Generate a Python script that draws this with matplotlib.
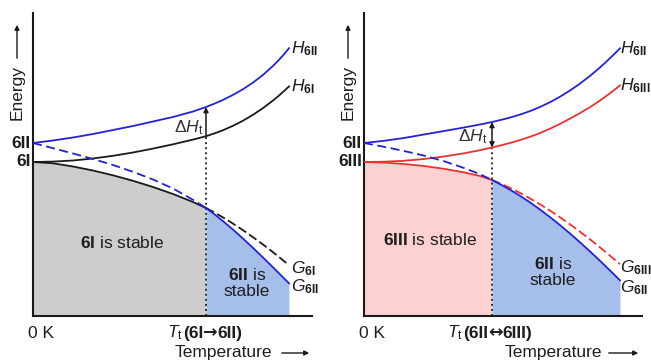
import matplotlib
matplotlib.use("Agg")
import matplotlib.pyplot as plt
from matplotlib.patches import FancyArrowPatch
from matplotlib.offsetbox import TextArea, HPacker, AnnotationBbox

plt.rcParams["font.family"] = ["Liberation Sans", "DejaVu Sans"]
plt.rcParams["mathtext.fontset"] = "custom"
plt.rcParams["mathtext.rm"] = "Liberation Sans"
plt.rcParams["mathtext.it"] = "Liberation Sans:italic"
plt.rcParams["mathtext.bf"] = "Liberation Sans:bold"

# ---- left panel: forms 6I and 6II (arbitrary temperature / energy units) ----
T_left = [0, 2, 4, 6, 8, 10, 12, 14, 16, 17.3, 18.2, 19, 20, 21, 22, 23, 24, 24.5, 25.1, 25.6]
H_6II_left = [17.3, 17.55, 17.85, 18.2, 18.6, 19.0, 19.45, 19.9, 20.45, 20.9,
              21.26, 21.61, 22.11, 22.68, 23.34, 24.11, 25.01, 25.51, 26.17, 26.78]
H_6I_left = [15.4, 15.44, 15.55, 15.75, 16.02, 16.35, 16.74, 17.17, 17.64, 17.98,
             18.28, 18.58, 19.02, 19.53, 20.12, 20.79, 21.55, 21.96, 22.49, 22.96]
G_6I_left = [15.4, 15.27, 14.95, 14.55, 14.07, 13.52, 12.9, 12.2, 11.4, 10.8,
             10.32, 9.86, 9.24, 8.58, 7.88, 7.15, 6.38, 5.98, 5.49, 5.08]
G_6II_left = [17.3, 16.78, 16.25, 15.7, 15.1, 14.42, 13.65, 12.75, 11.62, 10.8,
              10.13, 9.49, 8.64, 7.74, 6.81, 5.85, 4.87, 4.37, 3.77, 3.27]
Tt_left_idx = 9

# ---- right panel: forms 6III and 6II ----
T_right = [0, 2, 4, 6, 8, 10, 11.6, 12.8, 13.7, 14.6, 15.6, 16.6, 17.6, 18.6, 19.6,
           20.6, 21.6, 22.6, 23.4, 24.1, 24.9, 25.6]
H_6II_right = [17.3, 17.52, 17.8, 18.15, 18.5, 18.85, 19.15, 19.4, 19.61, 19.84, 20.14,
               20.49, 20.90, 21.38, 21.93, 22.55, 23.24, 24.01, 24.68, 25.31, 26.07, 26.77]
H_6III_right = [15.4, 15.43, 15.52, 15.7, 15.95, 16.27, 16.58, 16.85, 17.07, 17.30, 17.59,
                17.92, 18.30, 18.73, 19.21, 19.74, 20.29, 20.89, 21.41, 21.9, 22.5, 23.06]
G_6III_right = [15.4, 15.34, 15.2, 15.0, 14.72, 14.36, 14.0, 13.6, 13.22, 12.81, 12.31,
                11.76, 11.17, 10.54, 9.87, 9.17, 8.43, 7.66, 7.02, 6.45, 5.78, 5.18]
G_6II_right = [17.3, 16.92, 16.5, 16.04, 15.48, 14.8, 14.18, 13.6, 13.13, 12.63, 12.02,
               11.36, 10.65, 9.89, 9.09, 8.25, 7.37, 6.46, 5.71, 5.04, 4.26, 3.56]
Tt_right_idx = 7

BLUE = "#2323d2"
RED = "#e83232"
BLACK = "#1a1a1a"
GRAY_FILL = "#cdcdcd"
BLUE_FILL = "#a6bfea"
PINK_FILL = "#fdd0d1"
TXT = "#1e1e1e"
FS = 12.5

W, H = 651, 361
fig = plt.figure(figsize=(W / 100, H / 100), dpi=100)


def fx(x, y):
    return x / W, 1 - y / H


def make_axes(left_px, width_px, xmax):
    ax = fig.add_axes([left_px / W, 1 - 316 / H, width_px / W, 303 / H])
    ax.set_xlim(0, xmax)
    ax.set_ylim(0, 30.3)
    for s in ("top", "right"):
        ax.spines[s].set_visible(False)
    for s in ("left", "bottom"):
        ax.spines[s].set_linewidth(1.5)
        ax.spines[s].set_color(BLACK)
    ax.set_xticks([])
    ax.set_yticks([])
    ax.patch.set_alpha(0)
    return ax


def panel(ax, T, H_hi, H_lo, G_lo, G_hi, k, low_color, low_fill, low_name,
          hi_name, double_arrow, dh_offset, lab_dx, g_offsets):
    # stable regions
    ax.fill_between(T[:k + 1], 0, G_lo[:k + 1], color=low_fill, lw=0, zorder=1)
    ax.fill_between(T[k:], 0, G_hi[k:], color=BLUE_FILL, lw=0, zorder=1)
    # enthalpy curves
    ax.plot(T, H_hi, color=BLUE, lw=1.3, zorder=3, solid_joinstyle="round")
    ax.plot(T, H_lo, color=low_color, lw=1.3, zorder=3, solid_joinstyle="round")
    # free energy curves: solid where stable, dashed where metastable
    ax.plot(T[:k + 1], G_lo[:k + 1], color=low_color, lw=1.3, zorder=3, solid_joinstyle="round")
    ax.plot(T[k:], G_lo[k:], color=low_color, lw=1.3, ls=(0, (5, 2)), zorder=3)
    ax.plot(T[:k + 1], G_hi[:k + 1], color=BLUE, lw=1.3, ls=(0, (5, 2.5)), zorder=4)
    ax.plot(T[k:], G_hi[k:], color=BLUE, lw=1.3, zorder=4, solid_joinstyle="round")
    # transition temperature marker
    Tt = T[k]
    ax.plot([Tt, Tt], [0, H_lo[k]], color="#333333", lw=1.4, ls=(0, (1, 1.6)), zorder=2)
    style = "<|-|>" if double_arrow else "-|>"
    ax.annotate("", xy=(Tt, H_hi[k]), xytext=(Tt, H_lo[k]),
                arrowprops=dict(arrowstyle=style, color=BLACK, lw=1.1,
                                mutation_scale=7, shrinkA=0, shrinkB=0), zorder=5)
    ax.annotate(r"$\Delta H_{\mathrm{t}}$", xy=(Tt, (H_hi[k] + H_lo[k]) / 2),
                xytext=dh_offset, textcoords="offset points", ha="right",
                va="center", fontsize=FS, color="#333333")
    # curve labels
    for txt, yv, dy in ((r"$H_{\mathbf{%s}}$" % hi_name, H_hi[-1], 0),
                        (r"$H_{\mathbf{%s}}$" % low_name, H_lo[-1], 0),
                        (r"$G_{\mathbf{%s}}$" % low_name, G_lo[-1], g_offsets[0]),
                        (r"$G_{\mathbf{%s}}$" % hi_name, G_hi[-1], g_offsets[1])):
        ax.annotate(txt, xy=(T[-1], yv), xytext=(lab_dx, dy), textcoords="offset points",
                    ha="left", va="center", fontsize=FS, color=TXT)
    # starting energies at 0 K
    for name, yv in ((hi_name, H_hi[0]), (low_name, H_lo[0])):
        ax.annotate(name, xy=(0, yv), xytext=(-1.5, 0), textcoords="offset points",
                    ha="right", va="center", fontsize=FS, fontweight="bold", color=TXT)


axL = make_axes(33, 279, 27.9)
axR = make_axes(364, 278, 27.8)

panel(axL, T_left, H_6II_left, H_6I_left, G_6I_left, G_6II_left, Tt_left_idx,
      BLACK, GRAY_FILL, "6I", "6II", False, (-2, -4.5), 1.5, (-2.2, -2.5))
panel(axR, T_right, H_6II_right, H_6III_right, G_6III_right, G_6II_right, Tt_right_idx,
      RED, PINK_FILL, "6III", "6II", True, (-3, -1.5), 0, (-2.2, -5.0))

# region captions
fig.text(*fx(122, 243), r"$\mathbf{6I}$ is stable", ha="center", va="center", fontsize=FS, color=TXT)
fig.text(*fx(247, 283), "$\\mathbf{6II}$ is\nstable", ha="center", va="center",
         fontsize=FS, color=TXT, multialignment="center", linespacing=1.1)
fig.text(*fx(430, 240), r"$\mathbf{6III}$ is stable", ha="center", va="center", fontsize=FS, color=TXT)
fig.text(*fx(553, 272), "$\\mathbf{6II}$ is\nstable", ha="center", va="center",
         fontsize=FS, color=TXT, multialignment="center", linespacing=1.1)


def tt_label(xc, yc, left, arrow, right):
    bold = dict(fontsize=FS, fontweight="bold", color=TXT)
    parts = [TextArea("$T_{\\mathrm{t}}$", textprops=dict(fontsize=FS, color=TXT)),
             TextArea(left, textprops=bold),
             TextArea(arrow, textprops=dict(fontsize=FS, fontweight="bold", color=TXT,
                                            family="DejaVu Sans")),
             TextArea(right, textprops=bold)]
    box = HPacker(children=parts, align="baseline", pad=0, sep=0)
    fig.add_artist(AnnotationBbox(box, fx(xc, yc), xycoords="figure fraction",
                                  frameon=False, box_alignment=(0.5, 0.5), pad=0))


tt_label(205, 333, "(6I", "\u2192", "6II)")
tt_label(490, 333, "(6II", "\u2194", "6III)")

# x-axis annotations
for x0, xtemp, xa0, xa1 in ((28, 175, 279, 312), (359, 505, 606, 641)):
    fig.text(*fx(x0, 333), "0 K", ha="left", va="center", fontsize=FS, color=TXT)
    fig.text(*fx(xtemp, 352), "Temperature", ha="left", va="center", fontsize=FS, color=TXT)
    fig.add_artist(FancyArrowPatch(
        fx(xa0, 353), fx(xa1, 353), transform=fig.transFigure, arrowstyle="-|>",
        mutation_scale=7, lw=1.0, color=BLACK))

# y-axis titles
for xe in (17, 348):
    fig.text(*fx(xe, 92), "Energy", rotation=90, ha="center", va="center",
             fontsize=FS, color=TXT)
    fig.add_artist(FancyArrowPatch(
        fx(xe, 61), fx(xe, 22), transform=fig.transFigure, arrowstyle="-|>",
        mutation_scale=7, lw=1.0, color=BLACK))

fig.savefig("out.png", dpi=100)
